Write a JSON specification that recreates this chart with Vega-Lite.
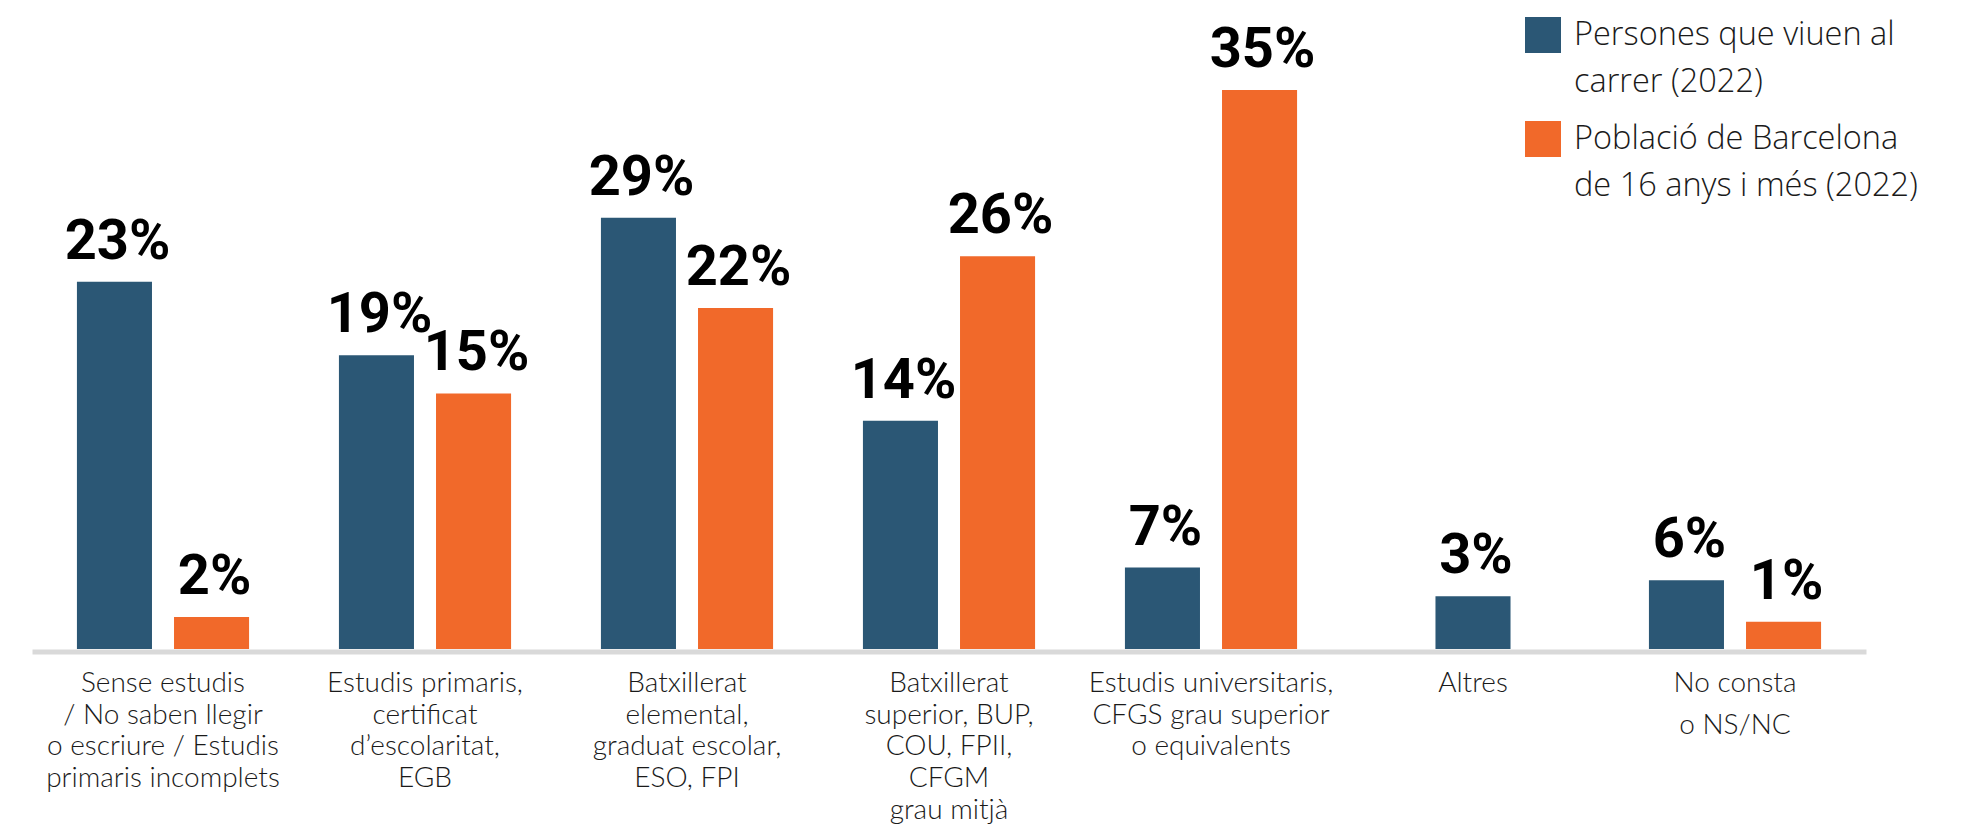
{
  "$schema": "https://vega.github.io/schema/vega-lite/v6.json",
  "width": 1834,
  "height": 649,
  "autosize": {"type": "none"},
  "padding": {"left": 32, "top": 0, "right": 120, "bottom": 177},
  "background": "#ffffff",
  "config": {
    "view": {"stroke": null},
    "axis": {"labelFont": "Lato", "titleFont": "Lato"},
    "legend": {"labelFont": "Open Sans"}
  },
  "data": {
    "values": [
      {"cat": "Sense estudis / No saben llegir o escriure / Estudis primaris incomplets", "serie": "Persones que viuen al carrer (2022)", "bar": 23.0, "pct": 0.23},
      {"cat": "Sense estudis / No saben llegir o escriure / Estudis primaris incomplets", "serie": "Població de Barcelona de 16 anys i més (2022)", "bar": 2.0, "pct": 0.02},
      {"cat": "Estudis primaris, certificat d’escolaritat, EGB", "serie": "Persones que viuen al carrer (2022)", "bar": 18.4, "pct": 0.19},
      {"cat": "Estudis primaris, certificat d’escolaritat, EGB", "serie": "Població de Barcelona de 16 anys i més (2022)", "bar": 16.0, "pct": 0.15},
      {"cat": "Batxillerat elemental, graduat escolar, ESO, FPI", "serie": "Persones que viuen al carrer (2022)", "bar": 27.0, "pct": 0.29},
      {"cat": "Batxillerat elemental, graduat escolar, ESO, FPI", "serie": "Població de Barcelona de 16 anys i més (2022)", "bar": 21.35, "pct": 0.22},
      {"cat": "Batxillerat superior, BUP, COU, FPII, CFGM grau mitjà", "serie": "Persones que viuen al carrer (2022)", "bar": 14.3, "pct": 0.14},
      {"cat": "Batxillerat superior, BUP, COU, FPII, CFGM grau mitjà", "serie": "Població de Barcelona de 16 anys i més (2022)", "bar": 24.6, "pct": 0.26},
      {"cat": "Estudis universitaris, CFGS grau superior o equivalents", "serie": "Persones que viuen al carrer (2022)", "bar": 5.1, "pct": 0.07},
      {"cat": "Estudis universitaris, CFGS grau superior o equivalents", "serie": "Població de Barcelona de 16 anys i més (2022)", "bar": 35.0, "pct": 0.35},
      {"cat": "Altres", "serie": "Persones que viuen al carrer (2022)", "bar": 3.3, "pct": 0.03},
      {"cat": "No consta o NS/NC", "serie": "Persones que viuen al carrer (2022)", "bar": 4.3, "pct": 0.06},
      {"cat": "No consta o NS/NC", "serie": "Població de Barcelona de 16 anys i més (2022)", "bar": 1.7, "pct": 0.01}
    ]
  },
  "encoding": {
    "x": {
      "field": "cat",
      "type": "nominal",
      "sort": [
        "Sense estudis / No saben llegir o escriure / Estudis primaris incomplets",
        "Estudis primaris, certificat d’escolaritat, EGB",
        "Batxillerat elemental, graduat escolar, ESO, FPI",
        "Batxillerat superior, BUP, COU, FPII, CFGM grau mitjà",
        "Estudis universitaris, CFGS grau superior o equivalents",
        "Altres",
        "No consta o NS/NC"
      ],
      "scale": {"paddingInner": 0.343, "paddingOuter": 0.1715},
      "axis": {
        "title": null,
        "labelAngle": 0,
        "ticks": false,
        "domainColor": "#d9d9d9",
        "domainWidth": 5,
        "offset": 2.5,
        "labelPadding": 18,
        "labelFont": "Lato",
        "labelFontSize": 28,
        "labelFontWeight": 300,
        "labelColor": "#1a1a1a",
        "labelLimit": 500,
        "labelOverlap": false,
        "labelLineHeight": {"expr": "datum.value == 'No consta o NS/NC' ? 41.7 : 31.7"},
        "labelExpr": "datum.value == 'Sense estudis / No saben llegir o escriure / Estudis primaris incomplets' ? ['Sense estudis', '/ No saben llegir', 'o escriure / Estudis', 'primaris incomplets'] : datum.value == 'Estudis primaris, certificat d’escolaritat, EGB' ? ['Estudis primaris,', 'certificat', 'd’escolaritat,', 'EGB'] : datum.value == 'Batxillerat elemental, graduat escolar, ESO, FPI' ? ['Batxillerat', 'elemental,', 'graduat escolar,', 'ESO, FPI'] : datum.value == 'Batxillerat superior, BUP, COU, FPII, CFGM grau mitjà' ? ['Batxillerat', 'superior, BUP,', 'COU, FPII,', 'CFGM', 'grau mitjà'] : datum.value == 'Estudis universitaris, CFGS grau superior o equivalents' ? ['Estudis universitaris,', 'CFGS grau superior', 'o equivalents'] : datum.value == 'No consta o NS/NC' ? ['No consta', 'o NS/NC'] : datum.value"
      }
    },
    "y": {
      "field": "bar",
      "type": "quantitative",
      "scale": {"domain": [0, 40.64], "nice": false},
      "axis": null
    },
    "color": {
      "field": "serie",
      "type": "nominal",
      "scale": {
        "domain": ["Persones que viuen al carrer (2022)", "Població de Barcelona de 16 anys i més (2022)"],
        "range": ["#2b5775", "#f1692a"]
      },
      "legend": {
        "title": null,
        "orient": "none",
        "legendX": 1493,
        "legendY": 17,
        "direction": "vertical",
        "padding": 0,
        "symbolType": "square",
        "symbolSize": 1296,
        "symbolStrokeWidth": 0,
        "symbolOpacity": 1,
        "labelOffset": 13,
        "labelFont": "Open Sans",
        "labelFontSize": 32.5,
        "labelFontWeight": 300,
        "labelColor": "#1a1a1a",
        "labelLimit": 500,
        "rowPadding": 22,
        "labelExpr": "datum.value == 'Persones que viuen al carrer (2022)' ? ['Persones que viuen al', 'carrer (2022)'] : ['Població de Barcelona', 'de 16 anys i més (2022)']",
        "encode": {"labels": {"update": {"lineHeight": {"value": 46.7}}}}
      }
    }
  },
  "layer": [
    {
      "transform": [{"filter": "datum.cat != 'Altres'"}],
      "mark": {"type": "bar"},
      "encoding": {
        "xOffset": {"field": "serie", "type": "nominal", "scale": {"paddingInner": 0.227, "paddingOuter": 0}}
      }
    },
    {
      "transform": [{"filter": "datum.cat != 'Altres'"}],
      "mark": {"type": "text", "font": "Roboto", "fontWeight": "bold", "fontSize": 56, "baseline": "alphabetic", "align": "center", "dy": -23, "dx": 3},
      "encoding": {
        "xOffset": {"field": "serie", "type": "nominal", "scale": {"paddingInner": 0.227, "paddingOuter": 0}},
        "text": {"field": "pct", "type": "quantitative", "format": ".0%"},
        "color": {"value": "#000000"}
      }
    },
    {
      "transform": [{"filter": "datum.cat == 'Altres'"}],
      "mark": {"type": "bar", "width": {"band": 0.436}}
    },
    {
      "transform": [{"filter": "datum.cat == 'Altres'"}],
      "mark": {"type": "text", "font": "Roboto", "fontWeight": "bold", "fontSize": 56, "baseline": "alphabetic", "align": "center", "dy": -23, "dx": 3},
      "encoding": {
        "text": {"field": "pct", "type": "quantitative", "format": ".0%"},
        "color": {"value": "#000000"}
      }
    }
  ]
}
